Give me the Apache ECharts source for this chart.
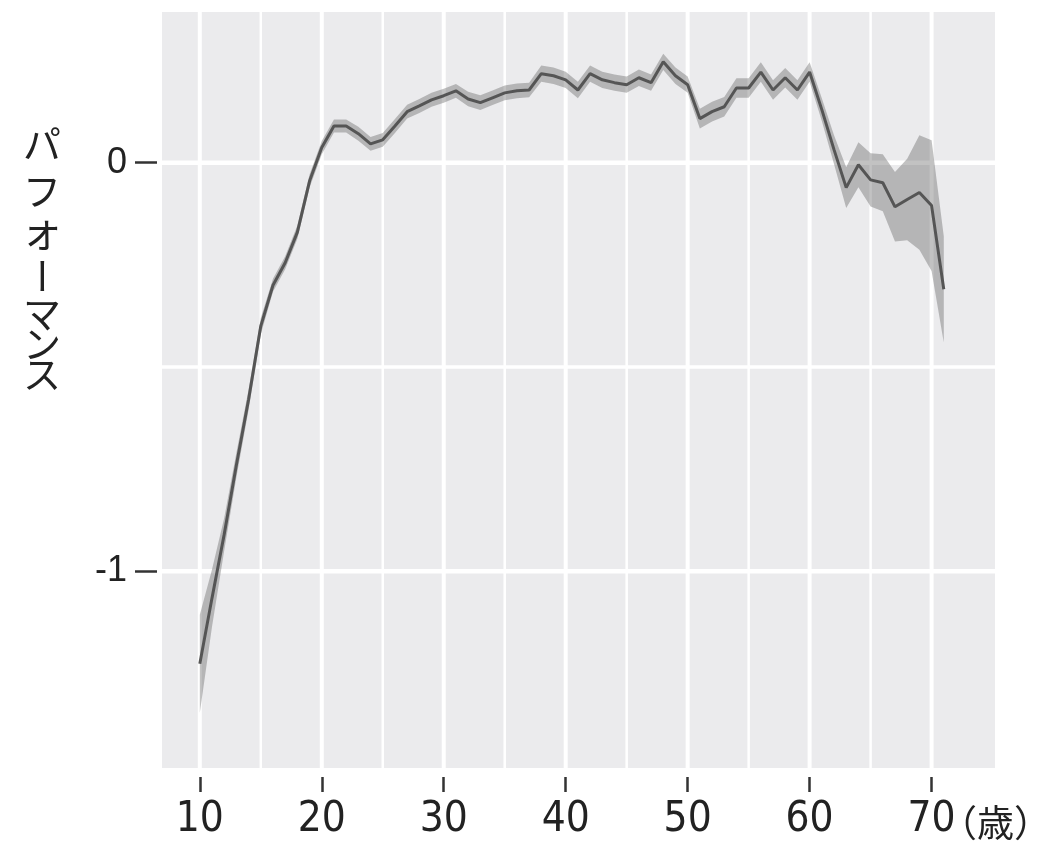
<!DOCTYPE html>
<html><head><meta charset="utf-8">
<script src="https://cdn.jsdelivr.net/npm/echarts@6/dist/echarts.min.js"></script>
<style>html,body{margin:0;padding:0;background:#fff}#c{width:1039px;height:841px}</style>
</head><body><div id="c"></div>
<script>
// ---- data ----
const ages = [10,11,12,13,14,15,16,17,18,19,20,21,22,23,24,25,26,27,28,29,30,31,32,33,34,35,36,37,38,39,40,41,42,43,44,45,46,47,48,49,50,51,52,53,54,55,56,57,58,59,60,61,62,63,64,65,66,67,68,69,70,71];
const performance = [
  -1.227,-1.066,-0.91,-0.74,-0.58,-0.40,-0.30,-0.245,-0.17,-0.045,
  0.037,0.09,0.09,0.071,0.046,0.056,0.09,0.125,0.139,0.154,
  0.164,0.176,0.156,0.147,0.159,0.171,0.176,0.178,0.218,0.213,
  0.203,0.178,0.218,0.203,0.196,0.191,0.208,0.196,0.247,0.213,
  0.191,0.108,0.125,0.137,0.183,0.183,0.222,0.178,0.208,0.178,
  0.222,0.13,0.032,-0.061,-0.005,-0.042,-0.049,-0.108,-0.09,-0.073,-0.105,-0.31];
const bandHalfWidth = [
  0.12,0.07,0.04,0.03,0.025,0.02,0.016,0.016,0.016,0.016,
  0.016,0.016,0.016,0.017,0.017,0.017,0.017,0.017,0.017,0.017,
  0.017,0.017,0.018,0.018,0.018,0.018,0.018,0.018,0.02,0.02,
  0.02,0.02,0.02,0.02,0.02,0.02,0.02,0.02,0.02,0.02,
  0.02,0.024,0.024,0.024,0.024,0.024,0.024,0.024,0.024,0.024,
  0.024,0.028,0.035,0.05,0.055,0.065,0.07,0.085,0.1,0.14,0.16,0.13];
const xTickValues = [10,20,30,40,50,60,70];
const xMinorValues = [15,25,35,45,55,65];
const yTickValues = [0,-1];
const yMinorValues = [-0.5];
const xUnitLabel = '（歳）';
const yTitleChars = ['パ','フ','ォ','ー','マ','ン','ス'];
const X_MIN = 6.9, X_MAX = 75.2, Y_MIN = -1.482, Y_MAX = 0.369;

// ---- build ----
const lineData = ages.map((a,i)=>[a, performance[i]]);
const upper = ages.map((a,i)=>[a, performance[i] + bandHalfWidth[i]]);
const lower = ages.map((a,i)=>[a, performance[i] - bandHalfWidth[i]]);

const chart = echarts.init(document.getElementById('c'), null, {renderer:'canvas'});
const numFont = "'Liberation Sans Narrow','DejaVu Sans Condensed',sans-serif";
const titleY = [144,191,231,276,314,344,374];

function gridLines(api){
  const kids=[];
  const vline=(v,w)=>{const p1=api.coord([v,Y_MIN]),p2=api.coord([v,Y_MAX]);
    kids.push({type:'line',shape:{x1:p1[0],y1:p1[1],x2:p2[0],y2:p2[1]},style:{stroke:'#fff',lineWidth:w}});};
  const hline=(v,w)=>{const p1=api.coord([X_MIN,v]),p2=api.coord([X_MAX,v]);
    kids.push({type:'line',shape:{x1:p1[0],y1:p1[1],x2:p2[0],y2:p2[1]},style:{stroke:'#fff',lineWidth:w}});};
  xMinorValues.forEach(v=>vline(v,2.5));
  yMinorValues.forEach(v=>hline(v,3.5));
  xTickValues.forEach(v=>vline(v,4));
  yTickValues.forEach(v=>hline(v,4.5));
  return {type:'group',children:kids};
}

chart.setOption({
  animation:false,
  grid:{left:162,right:44,top:12,bottom:72,show:true,backgroundColor:'#ebebed',borderWidth:0},
  xAxis:{type:'value',min:X_MIN,max:X_MAX,offset:9,
    axisLine:{show:false,onZero:false},splitLine:{show:false},
    axisTick:{show:true,customValues:xTickValues,length:15,lineStyle:{color:'#333',width:2.5}},
    axisLabel:{customValues:xTickValues,margin:22,fontSize:42,fontFamily:numFont,color:'#222'}},
  yAxis:{type:'value',min:Y_MIN,max:Y_MAX,offset:5,
    axisLine:{show:false,onZero:false},splitLine:{show:false},
    axisTick:{show:true,customValues:yTickValues,length:22,lineStyle:{color:'#333',width:2.5}},
    axisLabel:{customValues:yTickValues,margin:30,fontSize:36,fontFamily:"'Liberation Sans',Arial,sans-serif",color:'#222',
      formatter:v=>String(v)}},
  graphic:[
    {type:'text',left:940,top:804,style:{text:xUnitLabel,fontSize:37,fontFamily:"'Noto Sans CJK JP',sans-serif",fill:'#222'}}
  ].concat(yTitleChars.map((ch,i)=>({
    type:'text',x:42,y:titleY[i],rotation: ch==='ー'? -Math.PI/2 : 0,
    style:{text:ch,fontSize:ch==='ォ'?42:38,fontFamily:"'Noto Sans CJK JP',sans-serif",fill:'#222',align:'center',verticalAlign:'middle'}
  }))),
  series:[
    {type:'custom',z:1,silent:true,clip:false,data:[[40,-0.5]],
      renderItem:(params,api)=>gridLines(api)},
    {type:'custom',z:2,silent:true,data:[[ages[0],performance[0]]],
      renderItem:(params,api)=>{
        const pts=upper.map(p=>api.coord(p)).concat(lower.slice().reverse().map(p=>api.coord(p)));
        return {type:'polygon',shape:{points:pts},style:{fill:'rgba(80,80,80,0.35)'}};
      }},
    {type:'line',z:3,data:lineData,showSymbol:false,silent:true,
      lineStyle:{color:'#555',width:3}}
  ]
});
</script></body></html>
